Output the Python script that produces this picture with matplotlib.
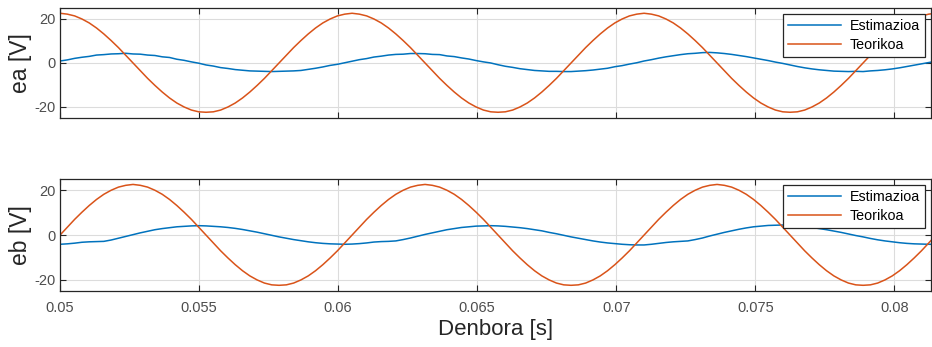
import numpy as np
import matplotlib.pyplot as plt

# ---- data ----
# sampling grid: 0.05 s to 0.0815 s, 121 samples (three periods)
time = np.linspace(0.05, 0.0815, 121)

ea_est = [
    0.9, 1.4, 2.1, 2.6, 3.0, 3.6, 3.8, 4.1, 4.2, 4.4,
    4.1, 4.0, 3.6, 3.4, 2.8, 2.5, 1.7, 1.2, 0.5, -0.1,
    -0.9, -1.4, -2.1, -2.5, -3.0, -3.3, -3.6, -3.7, -3.8, -3.9,
    -3.8, -3.7, -3.6, -3.4, -2.9, -2.4, -1.8, -1.1, -0.6, 0.1,
    0.8, 1.5, 2.0, 2.7, 3.1, 3.6, 3.9, 4.0, 4.3, 4.3,
    4.2, 3.9, 3.8, 3.2, 2.9, 2.3, 1.8, 1.1, 0.5, 0.0,
    -0.8, -1.5, -2.0, -2.6, -3.0, -3.4, -3.6, -3.8, -3.8, -3.9,
    -3.9, -3.7, -3.5, -3.2, -2.8, -2.4, -1.7, -1.2, -0.5, 0.1,
    0.9, 1.5, 2.2, 2.8, 3.3, 3.8, 4.2, 4.4, 4.7, 4.8,
    4.6, 4.3, 3.9, 3.4, 2.9, 2.3, 1.7, 1.1, 0.4, -0.2,
    -0.9, -1.6, -2.2, -2.7, -3.1, -3.4, -3.7, -3.8, -3.9, -3.8,
    -3.9, -3.6, -3.4, -3.1, -2.7, -2.2, -1.6, -1.0, -0.4, 0.2,
    0.8,
]
ea_teo = [
    22.6, 22.2, 21.4, 20.0, 18.2, 15.9, 13.2, 10.2, 7.0, 3.5,
    0.0, -3.5, -7.0, -10.2, -13.2, -15.9, -18.2, -20.0, -21.4, -22.2,
    -22.4, -22.2, -21.4, -20.0, -18.2, -15.9, -13.2, -10.2, -7.0, -3.5,
    0.0, 3.5, 7.0, 10.2, 13.2, 15.9, 18.2, 20.0, 21.4, 22.2,
    22.6, 22.2, 21.4, 20.0, 18.2, 15.9, 13.2, 10.2, 7.0, 3.5,
    0.0, -3.5, -7.0, -10.2, -13.2, -15.9, -18.2, -20.0, -21.4, -22.2,
    -22.4, -22.2, -21.4, -20.0, -18.2, -15.9, -13.2, -10.2, -7.0, -3.5,
    0.0, 3.5, 7.0, 10.2, 13.2, 15.9, 18.2, 20.0, 21.4, 22.2,
    22.6, 22.2, 21.4, 20.0, 18.2, 15.9, 13.2, 10.2, 7.0, 3.5,
    0.0, -3.5, -7.0, -10.2, -13.2, -15.9, -18.2, -20.0, -21.4, -22.2,
    -22.4, -22.2, -21.4, -20.0, -18.2, -15.9, -13.2, -10.2, -7.0, -3.5,
    0.0, 3.5, 7.0, 10.2, 13.2, 15.9, 18.2, 20.0, 21.4, 22.2,
    22.6,
]
eb_est = [
    -4.1, -3.9, -3.6, -3.2, -3.0, -2.9, -2.8, -2.2, -1.4, -0.6,
    0.2, 1.0, 1.7, 2.4, 2.9, 3.3, 3.7, 3.9, 4.1, 4.2,
    4.1, 3.9, 3.7, 3.4, 3.0, 2.5, 1.9, 1.3, 0.6, -0.1,
    -0.8, -1.4, -2.0, -2.5, -3.0, -3.4, -3.7, -3.9, -4.0, -4.1,
    -4.0, -3.8, -3.5, -3.1, -2.9, -2.8, -2.6, -2.0, -1.3, -0.5,
    0.3, 1.0, 1.7, 2.4, 2.9, 3.4, 3.7, 4.0, 4.1, 4.2,
    4.1, 3.9, 3.6, 3.3, 2.9, 2.4, 1.9, 1.2, 0.6, -0.1,
    -0.8, -1.4, -2.0, -2.6, -3.1, -3.5, -3.8, -4.1, -4.3, -4.4,
    -4.4, -4.1, -3.7, -3.3, -3.0, -2.8, -2.6, -2.0, -1.3, -0.4,
    0.4, 1.2, 1.9, 2.6, 3.2, 3.7, 4.0, 4.3, 4.4, 4.5,
    4.4, 4.1, 3.8, 3.4, 2.9, 2.4, 1.8, 1.2, 0.5, -0.2,
    -0.8, -1.5, -2.1, -2.6, -3.0, -3.4, -3.7, -3.9, -4.0, -4.1,
    -4.1,
]
eb_teo = [
    0.0, 3.5, 7.0, 10.2, 13.2, 15.9, 18.2, 20.0, 21.4, 22.2,
    22.6, 22.2, 21.4, 20.0, 18.2, 15.9, 13.2, 10.2, 7.0, 3.5,
    0.0, -3.5, -7.0, -10.2, -13.2, -15.9, -18.2, -20.0, -21.4, -22.2,
    -22.4, -22.2, -21.4, -20.0, -18.2, -15.9, -13.2, -10.2, -7.0, -3.5,
    0.0, 3.5, 7.0, 10.2, 13.2, 15.9, 18.2, 20.0, 21.4, 22.2,
    22.6, 22.2, 21.4, 20.0, 18.2, 15.9, 13.2, 10.2, 7.0, 3.5,
    0.0, -3.5, -7.0, -10.2, -13.2, -15.9, -18.2, -20.0, -21.4, -22.2,
    -22.4, -22.2, -21.4, -20.0, -18.2, -15.9, -13.2, -10.2, -7.0, -3.5,
    0.0, 3.5, 7.0, 10.2, 13.2, 15.9, 18.2, 20.0, 21.4, 22.2,
    22.6, 22.2, 21.4, 20.0, 18.2, 15.9, 13.2, 10.2, 7.0, 3.5,
    0.0, -3.5, -7.0, -10.2, -13.2, -15.9, -18.2, -20.0, -21.4, -22.2,
    -22.4, -22.2, -21.4, -20.0, -18.2, -15.9, -13.2, -10.2, -7.0, -3.5,
    0.0,
]

x_ticks = [0.05, 0.055, 0.06, 0.065, 0.07, 0.075, 0.08]
x_labels = ["0.05", "0.055", "0.06", "0.065", "0.07", "0.075", "0.08"]
y_ticks = [-20, 0, 20]
series_labels = ["Estimazioa", "Teorikoa"]

BLUE = "#0072BD"
ORANGE = "#D95319"
TICK_GRAY = "#4d4d4d"


def style_axes(ax, ylabel, show_xlabels):
    ax.set_xlim(0.05, 0.0813)
    ax.set_ylim(-25, 25)
    ax.set_xticks(x_ticks)
    ax.set_yticks(y_ticks)
    if show_xlabels:
        ax.set_xticklabels(x_labels)
    else:
        ax.set_xticklabels([])
    ax.set_yticklabels([str(v) for v in y_ticks])
    ax.tick_params(direction="in", top=True, right=True, length=4,
                   width=0.8, colors="#262626", labelcolor=TICK_GRAY,
                   labelsize=10.5)
    ax.tick_params(axis="x", pad=7)
    ax.tick_params(axis="y", pad=3)
    ax.grid(True, color="#dcdcdc", linewidth=0.8)
    ax.set_axisbelow(True)
    for sp in ax.spines.values():
        sp.set_color("#262626")
        sp.set_linewidth(0.9)
    ax.set_ylabel(ylabel, fontsize=16.5, color="#262626", labelpad=2)
    leg = ax.legend(loc="upper right", fontsize=10.3, handlelength=3.7,
                    fancybox=False, framealpha=1, edgecolor="#262626",
                    borderaxespad=0.4, borderpad=0.35, labelspacing=0.35,
                    handletextpad=0.6)
    leg.get_frame().set_linewidth(0.9)


plt.rcParams["font.family"] = ["Liberation Sans", "DejaVu Sans"]

fig = plt.figure(figsize=(9.32, 3.47), dpi=100)
ax1 = fig.add_axes([0.0644, 0.660, 0.934, 0.317])
ax2 = fig.add_axes([0.0644, 0.161, 0.934, 0.323])

ax1.plot(time, ea_est, color=BLUE, linewidth=1.1, label=series_labels[0])
ax1.plot(time, ea_teo, color=ORANGE, linewidth=1.1, label=series_labels[1])
style_axes(ax1, "ea [V]", False)

ax2.plot(time, eb_est, color=BLUE, linewidth=1.1, label=series_labels[0])
ax2.plot(time, eb_teo, color=ORANGE, linewidth=1.1, label=series_labels[1])
style_axes(ax2, "eb [V]", True)
ax2.set_xlabel("Denbora [s]", fontsize=16, color="#262626", labelpad=3)

fig.savefig("out.png", dpi=100)
